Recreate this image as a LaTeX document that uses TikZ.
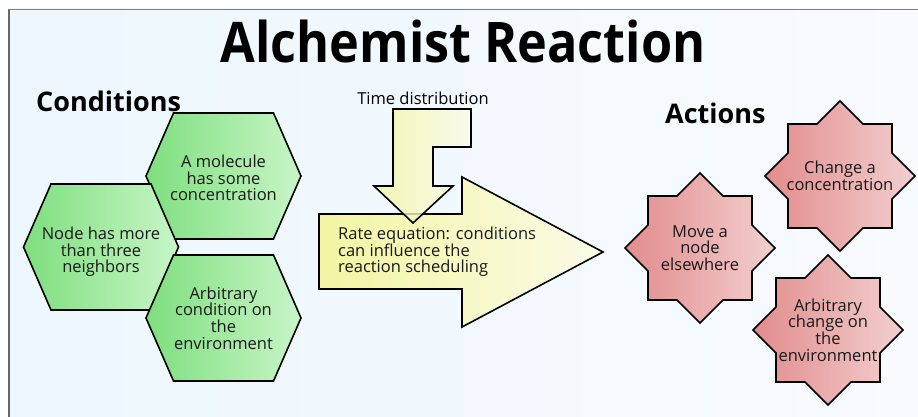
\documentclass[tikz,border=0pt]{standalone}
\usepackage{fontspec}
\setmainfont{Open Sans}
\newfontfamily\headfont{Open Sans}
\usetikzlibrary{calc}
\definecolor{bgL}{HTML}{EDF7FD}
\definecolor{bgR}{HTML}{F8FBFF}
\definecolor{grL}{HTML}{7EDF7E}
\definecolor{grR}{HTML}{C8F5C8}
\definecolor{ylL}{HTML}{F3F5A2}
\definecolor{ylR}{HTML}{FBFBE8}
\definecolor{rdL}{HTML}{E28C8C}
\definecolor{rdR}{HTML}{F3CFCF}
\tikzset{
  hexfill/.style={draw=black, line width=1.6pt, line join=miter, left color=grL, right color=grR},
  starfill/.style={draw=black, line width=1.6pt, line join=miter, left color=rdL, right color=rdR},
  arrowfill/.style={draw=black, line width=1.6pt, line join=miter, left color=ylL, right color=ylR},
  bodytext/.style={font=\fontsize{16.5}{16.7}\selectfont, align=center, inner sep=0pt, text=black!90},
  headtext/.style={font=\headfont\bfseries\fontsize{27}{30}\selectfont, inner sep=0pt, anchor=base west},
}
\newcommand\hexat[2]{%
  \draw[hexfill] (#1-77.5,#2) -- ++(27.5,-63) -- ++(100,0) -- ++(27.5,63) -- ++(-27.5,63) -- ++(-100,0) -- cycle;}
\newcommand\starat[2]{%
  \draw[starfill, shift={(#1pt,-#2pt)}] (0,-75) -- (23,-52) -- (52,-52) -- (52,-23) -- (75,0) -- (52,23) -- (52,52) -- (23,52) -- (0,75) -- (-23,52) -- (-52,52) -- (-52,23) -- (-75,0) -- (-52,-23) -- (-52,-52) -- (-23,-52) -- cycle;}
\begin{document}
\begin{tikzpicture}[x=1pt, y=-1pt]
\useasboundingbox (0,0) rectangle (918,417);
\fill[white] (0,0) rectangle (918,417);
\shade[left color=bgL, right color=bgR] (9,9) rectangle (918,417);
\draw[gray!80!black, line width=1.5pt] (9,417) -- (9,9.5);
\draw[gray, line width=1.5pt] (9,9.5) -- (918,9.5);

\node[font=\headfont\bfseries\fontsize{56}{60}\selectfont, inner sep=0pt, anchor=base, xscale=0.9] (title) at (463,63) {Alchemist Reaction};
\node[headtext] (cond) at (36,112) {Conditions};
\node[headtext] (act) at (665,124) {Actions};
\node[font=\fontsize{16.5}{16}\selectfont, inner sep=0pt, anchor=base] (timed) at (423,105) {Time distribution};

% hexagons
\hexat{223.5}{176}
\hexat{101}{247}
\hexat{223.5}{318}
\node[bodytext] (h1) at (223.5,178) {A molecule\\has some\\concentration};
\node[bodytext] (h2) at (101,252) {Node has more\\than three\\neighbors};
\node[bodytext] (h3) at (223.5,318) {Arbitrary\\condition on\\the\\environment};

% big arrow
\draw[arrowfill] (319,214) -- (462,214) -- (462,177) -- (603,252) -- (462,327) -- (462,289) -- (319,289) -- cycle;
\node[bodytext, align=left, anchor=west] (rate) at (338,252) {Rate equation: conditions\\can influence the\\reaction scheduling};
% down arrow
\draw[arrowfill, fill opacity=0.8] (393,109) -- (471,109) -- (471,147) -- (433,147) -- (433,186) -- (453,186) -- (413,223) -- (374,186) -- (393,186) -- cycle;

% stars
\starat{840}{176}
\starat{700}{248}
\starat{828}{330}
\node[bodytext] (s1) at (840,176) {Change a\\concentration};
\node[bodytext] (s2) at (700,248) {Move a\\node\\elsewhere};
\node[bodytext] (s3) at (828,330) {Arbitrary\\change on\\the\\environment};
\end{tikzpicture}
\end{document}
